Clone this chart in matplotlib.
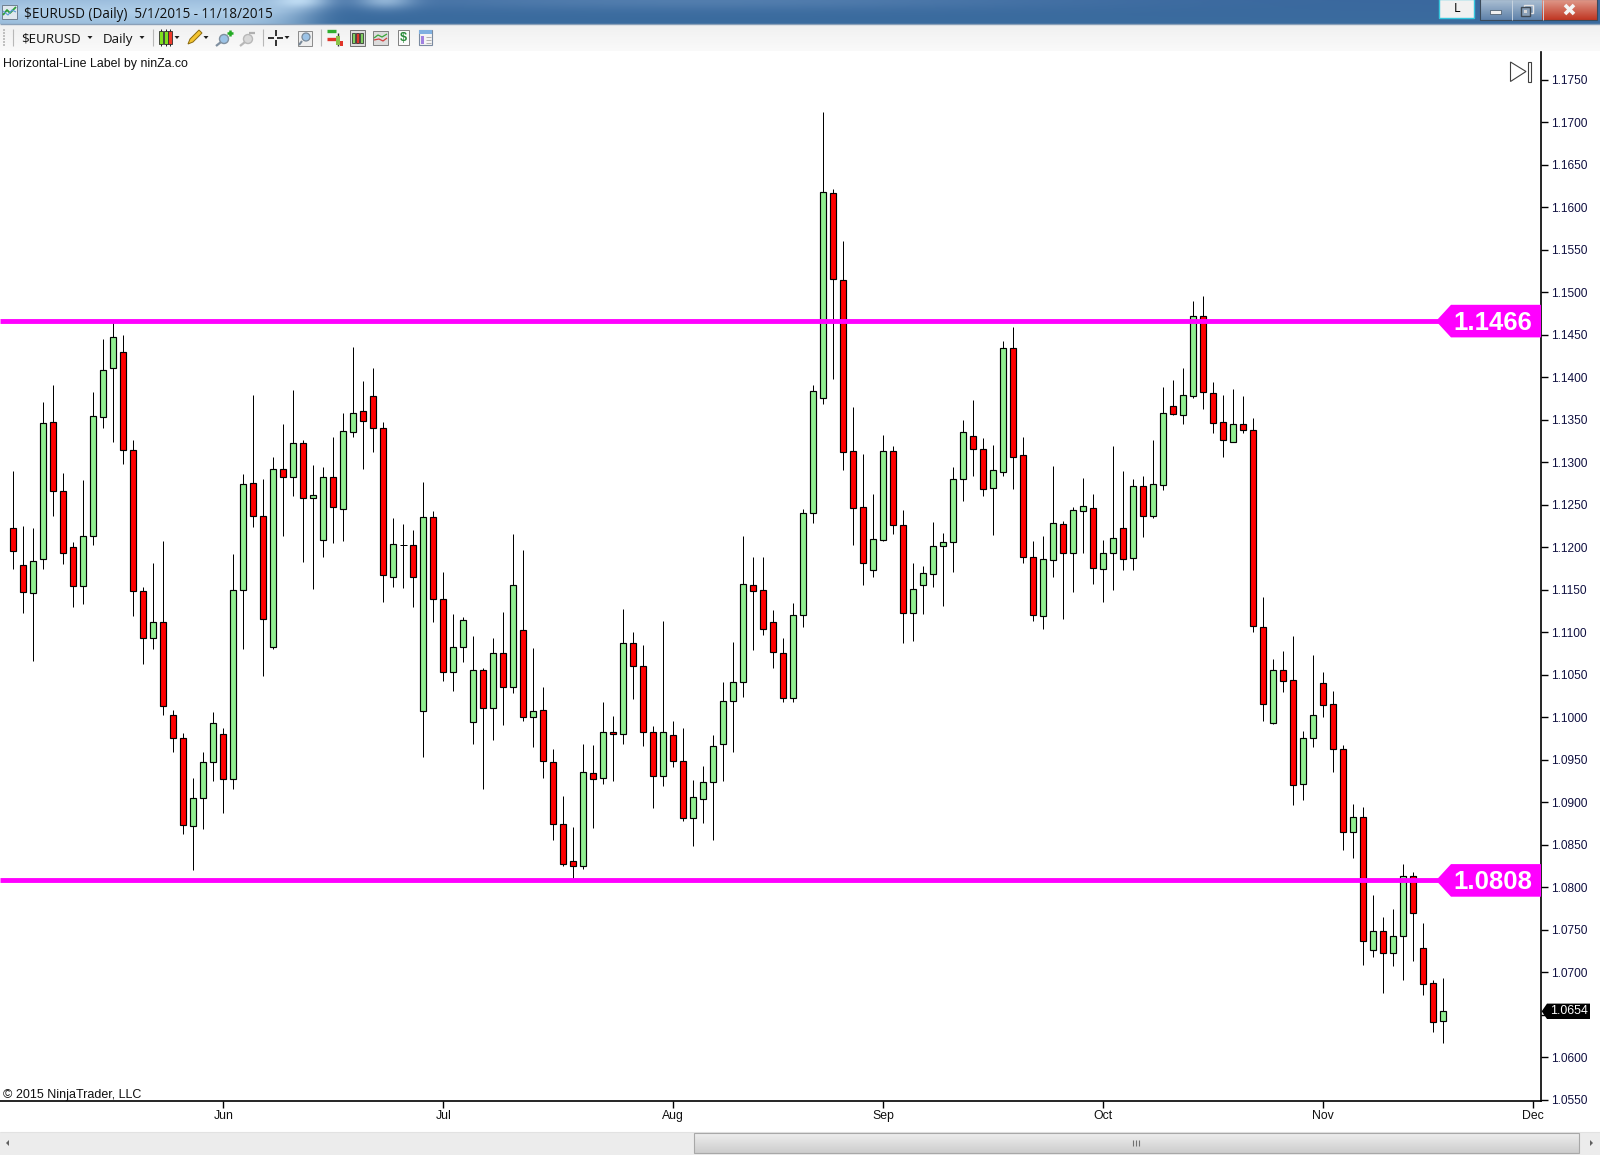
import numpy as np
import matplotlib
matplotlib.use("Agg")
import matplotlib.pyplot as plt
from matplotlib.patches import Polygon, Rectangle

plt.rcParams['font.family'] = ['Liberation Sans', 'DejaVu Sans']

symbol_title = "$EURUSD (Daily)  5/1/2015 - 11/18/2015"
opens = [1.1223,1.1179,1.1146,1.1186,1.1347,1.1266,1.1200,1.1154,1.1213,1.1353,
1.1411,1.1430,1.1314,1.1149,1.1093,1.1112,1.1002,1.0976,1.0872,1.0905,
1.0947,1.0980,1.0927,1.1150,1.1275,1.1237,1.1082,1.1292,1.1282,1.1323,
1.1258,1.1208,1.1283,1.1245,1.1336,1.1360,1.1378,1.1340,1.1165,1.1203,
1.1202,1.1007,1.1235,1.1139,1.1053,1.1083,1.0994,1.1055,1.1011,1.1075,
1.1035,1.1102,1.1000,1.1008,1.0947,1.0874,1.0831,1.0825,1.0934,1.0928,
1.0983,1.0980,1.1087,1.1060,1.0982,1.0931,1.0979,1.0949,1.0881,1.0904,
1.0924,1.0968,1.1019,1.1041,1.1156,1.1150,1.1112,1.1075,1.1022,1.1120,
1.1240,1.1376,1.1617,1.1514,1.1313,1.1247,1.1173,1.1209,1.1313,1.1226,
1.1122,1.1156,1.1169,1.1201,1.1206,1.1280,1.1331,1.1315,1.1270,1.1289,
1.1434,1.1308,1.1189,1.1119,1.1185,1.1227,1.1193,1.1242,1.1246,1.1174,
1.1193,1.1223,1.1187,1.1272,1.1237,1.1273,1.1366,1.1356,1.1378,1.1472,
1.1381,1.1347,1.1324,1.1345,1.1338,1.1106,1.0993,1.1055,1.1044,1.0921,
1.0975,1.1040,1.1015,1.0963,1.0865,1.0883,1.0726,1.0749,1.0723,1.0743,
1.0813,1.0728,1.0687,1.0643]
closes = [1.1195,1.1147,1.1184,1.1346,1.1266,1.1193,1.1154,1.1213,1.1354,1.1409,
1.1447,1.1314,1.1149,1.1093,1.1112,1.1013,1.0976,1.0873,1.0905,1.0947,
1.0993,1.0927,1.1150,1.1274,1.1237,1.1115,1.1292,1.1282,1.1323,1.1258,
1.1261,1.1283,1.1247,1.1337,1.1358,1.1349,1.1340,1.1167,1.1204,1.1203,
1.1165,1.1235,1.1139,1.1053,1.1083,1.1114,1.1055,1.1011,1.1075,1.1035,
1.1156,1.1000,1.1007,1.0949,1.0874,1.0827,1.0825,1.0935,1.0927,1.0983,
1.0980,1.1087,1.1060,1.0982,1.0931,1.0983,1.0949,1.0881,1.0906,1.0924,
1.0966,1.1019,1.1041,1.1157,1.1149,1.1104,1.1077,1.1022,1.1120,1.1240,
1.1384,1.1618,1.1515,1.1312,1.1246,1.1181,1.1210,1.1313,1.1226,1.1122,
1.1151,1.1170,1.1201,1.1206,1.1280,1.1336,1.1315,1.1268,1.1291,1.1434,
1.1306,1.1189,1.1120,1.1186,1.1229,1.1193,1.1244,1.1248,1.1175,1.1193,
1.1211,1.1186,1.1272,1.1237,1.1274,1.1358,1.1357,1.1379,1.1472,1.1383,
1.1346,1.1326,1.1345,1.1338,1.1107,1.1016,1.1056,1.1042,1.0920,1.0976,
1.1003,1.1014,1.0962,1.0865,1.0883,1.0737,1.0749,1.0723,1.0742,1.0813,
1.0770,1.0686,1.0641,1.0654]
highs = [1.1290,1.1225,1.1222,1.1371,1.1391,1.1287,1.1206,1.1279,1.1382,1.1445,
1.1465,1.1450,1.1326,1.1153,1.1181,1.1207,1.1009,1.0981,1.0929,1.0959,
1.1006,1.0987,1.1192,1.1286,1.1379,1.1280,1.1306,1.1345,1.1385,1.1326,
1.1297,1.1294,1.1330,1.1358,1.1435,1.1396,1.1411,1.1347,1.1234,1.1227,
1.1220,1.1277,1.1242,1.1171,1.1121,1.1118,1.1095,1.1058,1.1093,1.1124,
1.1215,1.1197,1.1081,1.1035,1.0962,1.0907,1.0871,1.0968,1.0967,1.1018,
1.1001,1.1127,1.1100,1.1085,1.0990,1.1113,1.0995,1.0987,1.0926,1.0942,
1.0979,1.1041,1.1088,1.1213,1.1188,1.1188,1.1126,1.1093,1.1134,1.1245,
1.1391,1.1712,1.1621,1.1560,1.1365,1.1310,1.1263,1.1332,1.1319,1.1244,
1.1181,1.1178,1.1230,1.1217,1.1294,1.1350,1.1373,1.1329,1.1320,1.1442,
1.1459,1.1330,1.1207,1.1213,1.1296,1.1231,1.1247,1.1281,1.1262,1.1208,
1.1319,1.1290,1.1280,1.1284,1.1326,1.1388,1.1397,1.1411,1.1490,1.1496,
1.1394,1.1379,1.1386,1.1378,1.1352,1.1141,1.1068,1.1078,1.1095,1.0984,
1.1073,1.1053,1.1031,1.0967,1.0898,1.0894,1.0791,1.0765,1.0774,1.0827,
1.0818,1.0758,1.0691,1.0693]
lows = [1.1174,1.1122,1.1066,1.1174,1.1237,1.1180,1.1130,1.1133,1.1202,1.1340,
1.1324,1.1298,1.1119,1.1062,1.1080,1.1002,1.0959,1.0863,1.0820,1.0868,
1.0925,1.0887,1.0916,1.1080,1.1224,1.1049,1.1080,1.1213,1.1260,1.1183,
1.1151,1.1189,1.1205,1.1207,1.1330,1.1292,1.1312,1.1135,1.1153,1.1152,
1.1130,1.0953,1.1112,1.1042,1.1031,1.1065,1.0969,1.0916,1.0973,1.0991,
1.1029,1.0996,1.0965,1.0929,1.0855,1.0825,1.0810,1.0821,1.0870,1.0921,
1.0925,1.0968,1.1021,1.0966,1.0893,1.0919,1.0941,1.0878,1.0848,1.0875,
1.0855,1.0925,1.0959,1.1024,1.1079,1.1097,1.1058,1.1018,1.1018,1.1106,
1.1228,1.1369,1.1398,1.1291,1.1202,1.1155,1.1165,1.1207,1.1216,1.1087,
1.1090,1.1121,1.1153,1.1131,1.1171,1.1254,1.1284,1.1260,1.1214,1.1284,
1.1269,1.1181,1.1113,1.1104,1.1165,1.1116,1.1147,1.1193,1.1157,1.1135,
1.1150,1.1173,1.1173,1.1212,1.1234,1.1267,1.1356,1.1345,1.1376,1.1363,
1.1334,1.1306,1.1324,1.1334,1.1100,1.0996,1.0992,1.1030,1.0897,1.0903,
1.0965,1.1000,1.0936,1.0844,1.0834,1.0708,1.0718,1.0675,1.0707,1.0691,
1.0713,1.0673,1.0630,1.0617]
month_labels = ["Jun", "Jul", "Aug", "Sep", "Oct", "Nov", "Dec"]
month_bars = [21, 43, 66, 87, 109, 131, 152]
price_ticks = [1.055 + 0.005 * k for k in range(25)]
level_values = [1.1466, 1.0808]
last_price = 1.0654

W, H = 1600, 1155
fig = plt.figure(figsize=(W / 100, H / 100), dpi=100, facecolor="white")

# ---------- window chrome, in pixel coordinates ----------
ch = fig.add_axes([0, 0, 1, 1], zorder=0)
ch.set_xlim(0, W)
ch.set_ylim(H, 0)
ch.axis("off")

def vgrad(x0, x1, y0, y1, c0, c1, z=1):
    g = np.linspace(0, 1, 32)[:, None, None]
    arr = (1 - g) * np.array(c0)[None, None, :] + g * np.array(c1)[None, None, :]
    ch.imshow(arr / 255.0, extent=(x0, x1, y1, y0), aspect="auto", zorder=z, interpolation="bilinear")

def rect(x0, y0, x1, y1, fc="none", ec="none", lw=0.8, z=3):
    ch.add_patch(Rectangle((x0, y0), x1 - x0, y1 - y0, fc=fc, ec=ec, lw=lw, zorder=z))

def line(xs, ys, c="black", lw=1.0, z=3):
    ch.plot(xs, ys, color=c, lw=lw, zorder=z, solid_capstyle="butt")

# title bar
xx, yy = np.meshgrid(np.arange(W) + 0.5, np.arange(24) + 0.5)
base = np.array([58, 104, 158], float)
img = np.ones((24, W, 3)) * base
img[..., 1] += (yy / 24) * 4
glow = np.exp(-((xx - 120) / 190) ** 8) * (0.85 - 0.15 * np.abs(yy - 12) / 12)
blot = (0.55 * np.exp(-((xx - 305) / 28) ** 2) + 0.55 * np.exp(-((xx - 385) / 28) ** 2)) * np.exp(-(yy / 9) ** 2)
soft = 0.18 * np.exp(-((xx - 700) / 350) ** 2) * np.exp(-(yy / 10) ** 2)
m = np.clip(glow + blot + soft, 0, 1)[..., None]
img = img * (1 - m) + np.array([196, 224, 246]) * m
ch.imshow(img / 255.0, extent=(0, W, 24, 0), aspect="auto", zorder=1, interpolation="bilinear")
line([0, W], [23.5, 23.5], "#8aa0b8", 1.0, 2)
ch.text(23.5, 14, symbol_title, family=["Open Sans", "DejaVu Sans"], fontsize=9.72, color="#101010", va="center", zorder=4)
# title icon
rect(2, 5, 17, 19, "#dfe8ee", "#708090", 0.7)
line([3, 7, 10, 16], [15, 10, 13, 7], "#2e9e3a", 1.3, 4)
line([3, 8, 12, 16], [11, 15, 10, 12], "#5a9bd5", 0.8, 4)

# window buttons
rect(1439, -1, 1474, 18, "#f1f1f1", "#35c6dd", 1.0, 3)
ch.text(1457, 9, "L", fontsize=9, color="black", ha="center", va="center", zorder=5, family=["Open Sans", "DejaVu Sans"])
vgrad(1480, 1511, 0, 20, (170, 190, 210), (95, 130, 170), 2)
vgrad(1511, 1542, 0, 20, (170, 190, 210), (95, 130, 170), 2)
vgrad(1542, 1597, 0, 20, (222, 150, 135), (192, 55, 35), 2)
rect(1480, -1, 1597, 20, "none", "#3a4a5a", 0.8, 3)
line([1511.5, 1511.5], [0, 20], "#c8d4e0", 0.7)
line([1542.5, 1542.5], [0, 20], "#c8d4e0", 0.7)
rect(1490, 10, 1501, 14, "#f0f0f0", "#405060", 0.5)
rect(1524, 5, 1533, 13, "none", "#e6e6e6", 1.0)
rect(1521, 7, 1530, 16, "#8aa0b8", "#404a55", 1.0)
rect(1524, 10, 1527, 13, "#d8d8d8", "none")
line([1565, 1574], [5, 14], "#f4f4f4", 2.6, 4)
line([1574, 1565], [5, 14], "#f4f4f4", 2.6, 4)

# toolbar
vgrad(0, W, 24, 51, (240, 240, 240), (250, 250, 250), 1)
ui_font = ["Open Sans", "DejaVu Sans"]
ch.text(21, 39, "$EURUSD", family=ui_font, fontsize=9.6, color="#101010", va="center", zorder=4)
ch.text(103, 39, "Daily", family=ui_font, fontsize=9.6, color="#101010", va="center", zorder=4)

def arrow(x, y=37.5):
    ch.add_patch(Polygon([[x - 2.5, y - 1.5], [x + 2.5, y - 1.5], [x, y + 1.5]], fc="#202020", ec="none", zorder=4))

for ax_x in [90, 142, 177, 206, 287]:
    arrow(ax_x)
for sx in [12.5, 152.5, 262.5, 320.5]:
    line([sx, sx], [29, 46], "#b8b8b8", 0.8)
for gy in range(29, 45, 3):
    rect(3, gy, 5, gy + 1.6, "#c0c0c0")
# chart-style icon
for x0, fc in [(159, "#7fe020"), (163.5, "#7fe020"), (168, "#ef3a2a")]:
    line([x0 + 2, x0 + 2], [29, 46], "#202020", 0.7)
    rect(x0, 31, x0 + 4, 44, fc, "#303030", 0.6)
# pencil
ch.add_patch(Polygon([[188, 44], [190, 39], [199, 30], [202, 33], [193, 42]], fc="#f4c430", ec="#8a6a10", lw=0.7, zorder=4))
# magnifiers
for cx, col, ringc in [(222, "#9cc3e6", "#8090a0"), (246, "#d8d8d8", "#b8b8b8")]:
    ch.add_patch(plt.Circle((cx + 2, 39), 4.5, fc=col, ec=ringc, lw=1, zorder=4))
    line([cx - 1, cx - 6], [42, 46], ringc, 1.6, 4)
line([227, 233], [33, 33], "#22aa22", 1.8, 5)
line([230, 230], [30, 36], "#22aa22", 1.8, 5)
line([249, 255], [33, 33], "#b0b0b0", 1.6, 5)
# crosshair
line([268, 274], [38, 38], "#101010", 1.2)
line([277, 283], [38, 38], "#101010", 1.2)
line([275.5, 275.5], [30, 36], "#101010", 1.2)
line([275.5, 275.5], [40, 46], "#101010", 1.2)
rect(298, 31, 312, 46, "#eeeeee", "#8a8a8a", 0.7)
ch.add_patch(plt.Circle((306, 37), 4, fc="#9cc3e6", ec="#7a8a9a", lw=0.9, zorder=4))
line([302, 299], [41, 45], "#7a8a9a", 1.5, 4)
# remaining icons
line([327, 336], [31, 31], "#2fae2f", 2.4); line([327, 336], [39, 39], "#e0352a", 2.4)
line([338, 338], [33, 46], "#303030", 1.0); rect(336, 36, 340, 45, "#8bc34a")
rect(340, 41, 343, 46, "#e0352a")
rect(350, 30, 365, 46, "#dcdcdc", "#707070", 0.7)
for xi, c in [(353, "#7fd060"), (357, "#e0352a"), (361, "#7fd060")]:
    rect(xi - 1, 33, xi + 2, 43, c, "#202020", 0.5)
rect(373, 31, 388, 45, "#dcdcdc", "#808080", 0.7)
line([374, 378, 382, 387], [38, 35, 37, 34], "#3aa63a", 0.9, 4)
line([374, 379, 383, 387], [40, 39, 41, 38], "#d04040", 0.9, 4)
rect(398, 30, 409, 45, "#fafafa", "#808080", 0.7)
ch.text(403.5, 38, "$", fontsize=9, weight="bold", color="#2a8a3a", ha="center", va="center", zorder=5)
rect(419, 30, 432, 45, "#f4f4f4", "#7a8aa0", 0.8)
rect(419, 30, 432, 34, "#7fb0e0")
rect(421, 36, 424, 44, "#a080e0")
for ty in (37, 40, 43):
    line([425.5, 431], [ty, ty], "#b0b0b0", 0.7)

# scroll bar
rect(0, 1132, W, H, "#ececec", z=1)
line([0, W], [1131.5, 1131.5], "#e2e2e2", 0.8, 2)
vgrad(694, 1579, 1133, 1153, (238, 238, 238), (205, 205, 205), 2)
rect(694, 1133, 1579, 1153, "none", "#a8a8a8", 0.8, 3)
for gx in (1133, 1136, 1139):
    line([gx, gx], [1140, 1146], "#707070", 0.8, 4)
ch.add_patch(Polygon([[6, 1143], [9, 1140], [9, 1146]], fc="#606060", ec="none", zorder=4))
ch.add_patch(Polygon([[1593, 1143], [1590, 1140], [1590, 1146]], fc="#606060", ec="none", zorder=4))
ch.set_xlim(0, W)
ch.set_ylim(H, 0)

# ---------- price chart ----------
AX_L, AX_R, AX_T, AX_B = 0, 1541, 52, 1101.3
ax = fig.add_axes([AX_L / W, 1 - AX_B / H, (AX_R - AX_L) / W, (AX_B - AX_T) / H], zorder=1)
ax.set_facecolor("white")
PX_PER_UNIT = 8500.0
ax.set_ylim(1.1750 - (AX_B - 79.7) / PX_PER_UNIT, 1.1750 + (79.7 - AX_T) / PX_PER_UNIT)
ax.set_xlim(-1.33, 152.77)

o = np.array(opens); c = np.array(closes); h = np.array(highs); l = np.array(lows)
idx = np.arange(len(o))
ax.vlines(idx, l, h, colors="black", lw=0.72, zorder=2)
body_col = np.where(c > o, "#90EE90", "#FF0000")
flat = c == o
ax.bar(idx[~flat], (c - o)[~flat], bottom=o[~flat], width=0.58, color=body_col[~flat],
       edgecolor="black", linewidth=0.85, zorder=3)
ax.hlines(c[flat], idx[flat] - 0.33, idx[flat] + 0.33, colors="black", lw=0.72, zorder=3)

for s in ("left", "top"):
    ax.spines[s].set_visible(False)
for s in ("right", "bottom"):
    ax.spines[s].set_linewidth(1.2)
ax.yaxis.tick_right()
ax.set_yticks(price_ticks)
ax.set_yticklabels([f"{v:.4f}" for v in price_ticks])
ax.set_xticks(month_bars)
ax.set_xticklabels(month_labels)
ax.tick_params(axis="y", length=5, width=1.0, pad=2, labelsize=8.6, labelcolor="#101040")
ax.tick_params(axis="x", length=5, width=1.0, pad=1.5, labelsize=8.8, labelcolor="#101010")

# horizontal levels with their price flags
LW_PT = 3.5
xf = lambda px: (px - AX_L) / (AX_R - AX_L)
ytr = ax.get_yaxis_transform()
half = 16.3 / PX_PER_UNIT
for v in level_values:
    ax.plot([0, xf(1440)], [v, v], transform=ytr, color="#FF00FF", lw=LW_PT, zorder=5, solid_capstyle="butt")
    ax.add_patch(Polygon([[xf(1436), v], [xf(1451), v + half], [1, v + half], [1, v - half], [xf(1451), v - half]],
                         transform=ytr, fc="#FF00FF", ec="none", zorder=6, clip_on=False))
    ax.text(xf(1493), v - 1.5 / PX_PER_UNIT, f"{v:.4f}", transform=ytr, fontsize=18.5, weight="bold", color="white",
            ha="center", va="center", zorder=7, family="Liberation Sans")

# last-price tag
th = 7.7 / PX_PER_UNIT
ax.add_patch(Polygon([[xf(1541.7), last_price], [xf(1547), last_price + th], [xf(1590), last_price + th],
                      [xf(1590), last_price - th], [xf(1547), last_price - th]],
                     transform=ytr, fc="black", ec="none", zorder=8, clip_on=False))
ax.text(xf(1569), last_price, f"{last_price:.4f}", transform=ytr, fontsize=8.9, color="white",
        ha="center", va="center", zorder=9)

# chart captions and end-of-data marker
ch2 = fig.add_axes([0, 0, 1, 1], zorder=2)
ch2.set_xlim(0, W)
ch2.set_ylim(H, 0)
ch2.axis("off")
ch2.text(3, 64.3, "Horizontal-Line Label by ninZa.co", fontsize=8.95, color="#101010", va="center")
ch2.text(3, 1095, "\u00a9 2015 NinjaTrader, LLC", fontsize=9.0, color="#101010", va="center")
ch2.add_patch(Polygon([[1510.5, 62], [1526, 71.5], [1510.5, 81.5]], fc="white", ec="#404040", lw=0.8))
ch2.add_patch(Rectangle((1527.5, 61.5), 3.2, 20, fc="white", ec="#404040", lw=0.8))

fig.savefig("out.png", dpi=100, facecolor="white")
